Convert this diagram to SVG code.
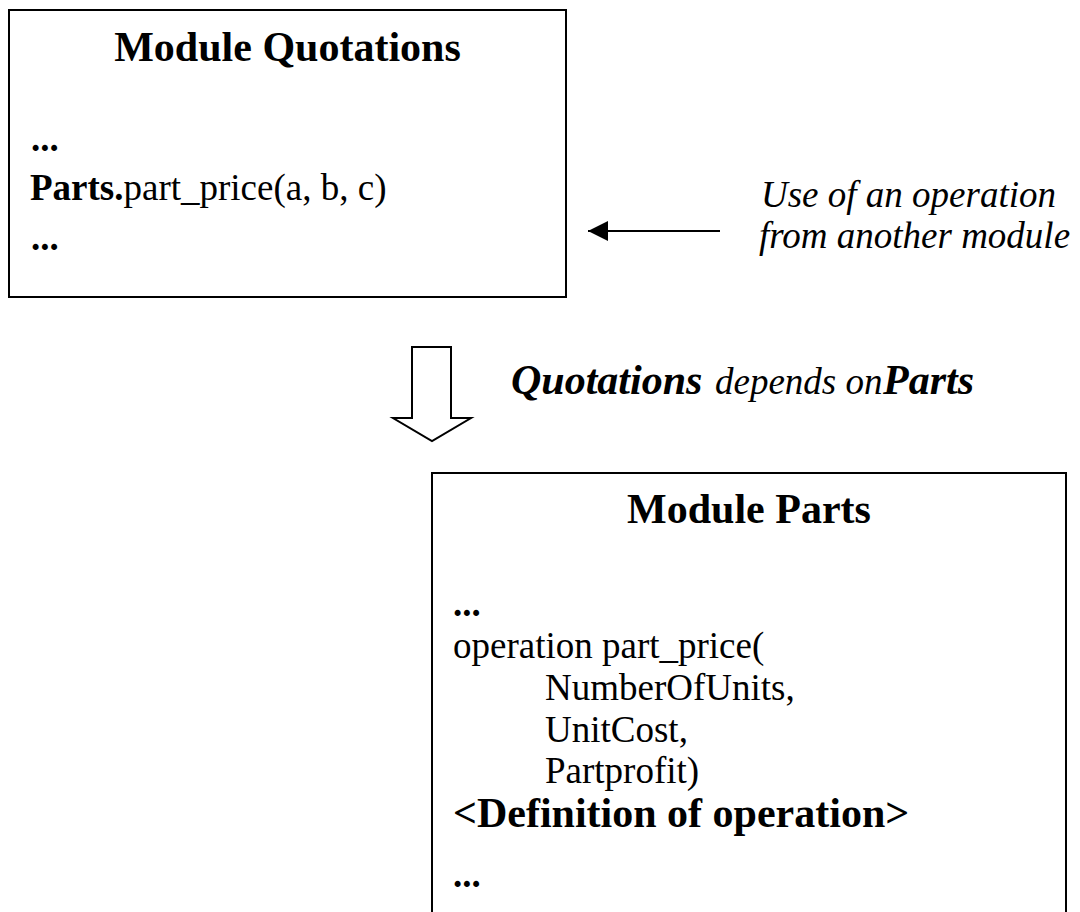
<svg xmlns="http://www.w3.org/2000/svg" width="1080" height="912" viewBox="0 0 1080 912">
  <style>
    .box { fill: #ffffff; stroke: #000000; stroke-width: 2; }
    .t { font-family: "Liberation Serif", "Times New Roman", serif; fill: #000000; }
    .title { font-size: 42px; font-weight: bold; }
    .body { font-size: 37px; }
    .b { font-weight: bold; }
    .it { font-style: italic; }
    .line { stroke: #000000; stroke-width: 2; fill: none; }
  </style>
  <defs>
    <marker id="arrowhead" markerWidth="20" markerHeight="20" refX="20" refY="10" orient="auto" markerUnits="userSpaceOnUse">
      <path d="M0,0 L20,10 L0,20 Z" fill="#000000"/>
    </marker>
  </defs>
  <rect width="1080" height="912" fill="#ffffff"/>

  <g id="module-quotations">
    <rect class="box" x="9" y="10" width="557" height="287"/>
    <text class="t title" x="287.5" y="61" text-anchor="middle">Module Quotations</text>
    <text class="t body b" x="31" y="151">...</text>
    <text class="t body" x="30" y="200"><tspan class="b">Parts.</tspan>part_price(a, b, c)</text>
    <text class="t body b" x="31" y="250">...</text>
  </g>

  <g id="usage-note">
    <text class="t body it" x="761" y="207">Use of an operation</text>
    <text class="t body it" x="759" y="248">from another module</text>
  </g>

  <g id="connectors">
    <line class="line" x1="720" y1="231" x2="588" y2="231" marker-end="url(#arrowhead)"/>
    <polygon class="line" points="412,347 451,347 451,418 471,418 432,441 393,418 412,418" fill="#ffffff"/>
  </g>

  <g id="dependency-label">
    <text class="t it" y="394"><tspan x="511" font-size="42" font-weight="bold">Quotations </tspan><tspan x="715" font-size="37">depends on </tspan><tspan x="883" font-size="42" font-weight="bold">Parts</tspan></text>
  </g>

  <g id="module-parts">
    <rect class="box" x="432" y="473" width="634" height="460"/>
    <text class="t title" x="749" y="523" text-anchor="middle">Module Parts</text>
    <text class="t body b" x="453" y="616">...</text>
    <text class="t body" x="453" y="658">operation part_price(</text>
    <text class="t body" x="545" y="700">NumberOfUnits,</text>
    <text class="t body" x="545" y="742">UnitCost,</text>
    <text class="t body" x="545" y="783">Partprofit)</text>
    <text class="t title" x="453" y="827">&lt;Definition of operation&gt;</text>
    <text class="t body b" x="453" y="887">...</text>
  </g>
</svg>
